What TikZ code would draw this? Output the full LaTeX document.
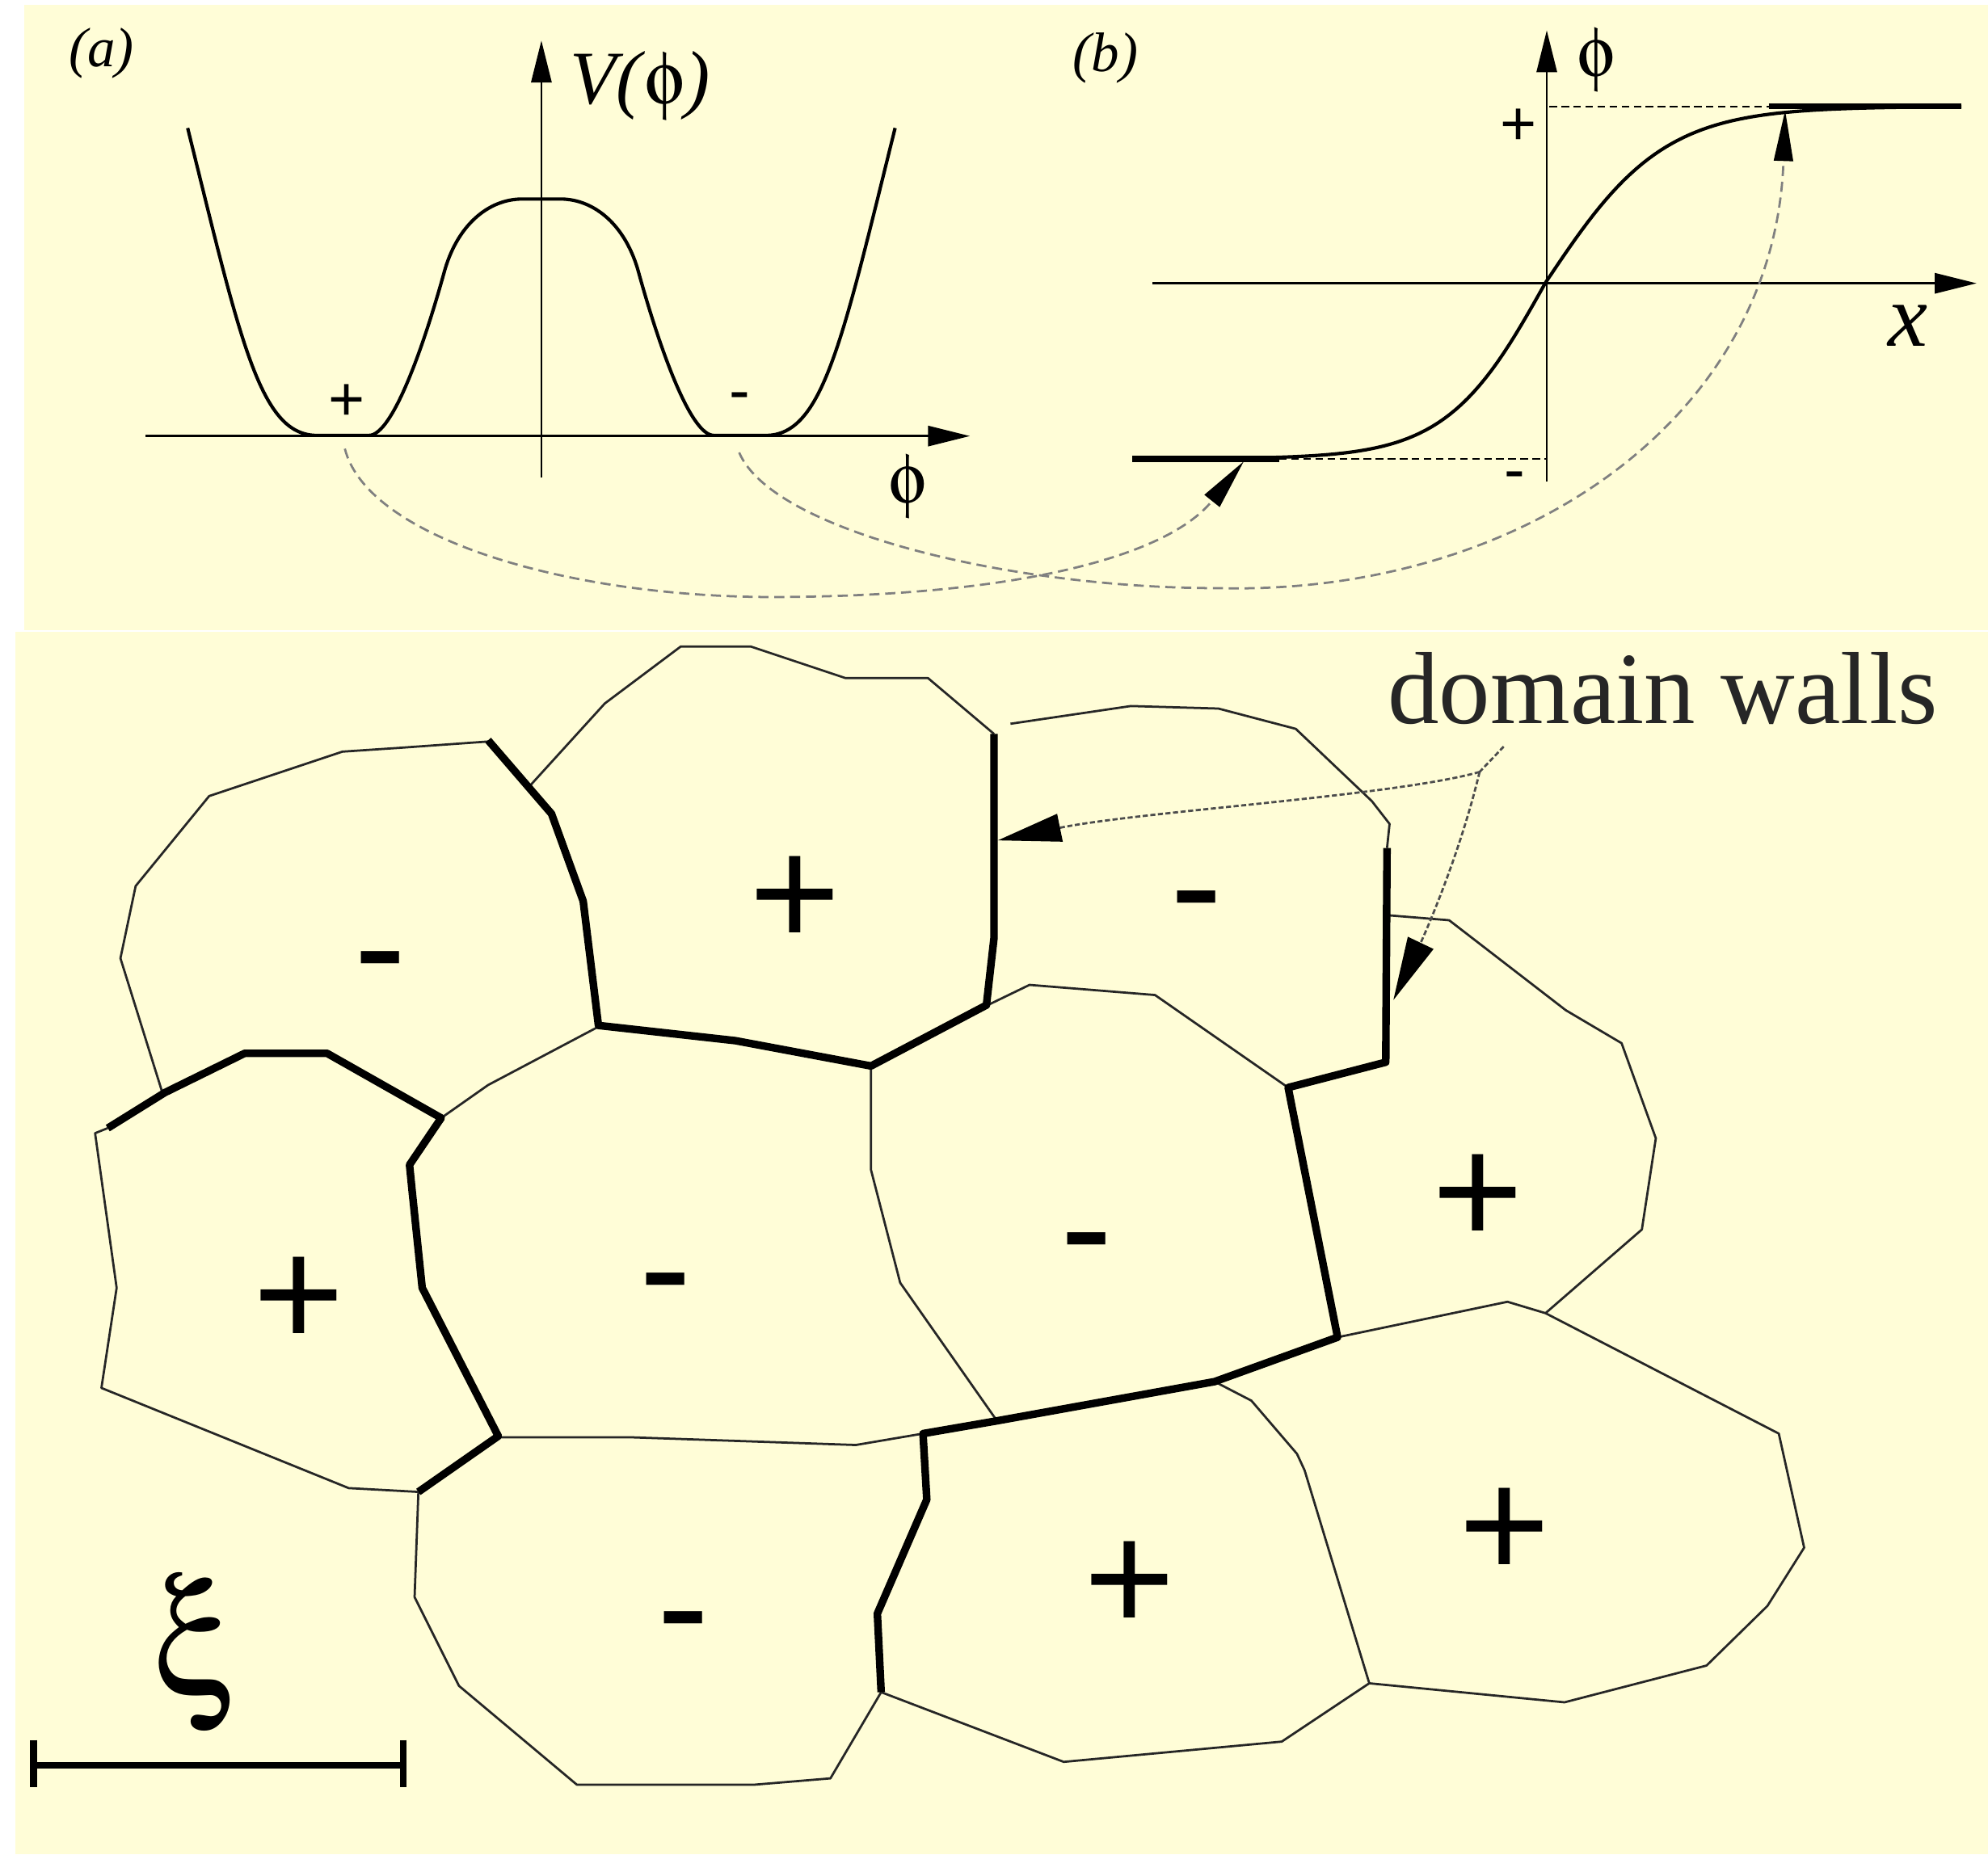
\documentclass[tikz,border=0pt]{standalone}
\usepackage{fontspec}
\setmainfont{Liberation Serif}
\newfontfamily\sansf{Liberation Sans}
\usepackage[Symbol]{upgreek}
\usetikzlibrary{arrows.meta}
\definecolor{cream}{RGB}{255,253,215}
\begin{document}
\begin{tikzpicture}[x=0.01cm,y=-0.01cm,
  thinedge/.style={line width=0.5pt, draw=black!85, line join=round},
  wall/.style={line width=1.7pt, line join=round},
  axis/.style={line width=0.45pt, -{Triangle[length=0.33cm,width=0.16cm]}},
  curve/.style={line width=0.75pt, line join=round},
  flat/.style={line width=1.3pt},
  guide/.style={line width=0.45pt, dash pattern=on 0.06cm off 0.035cm},
  conn/.style={black!50, line width=0.5pt, dash pattern=on 0.08cm off 0.045cm,
               -{Triangle[length=0.4cm,width=0.15cm,color=black]}},
  ptr/.style={black!70, line width=0.5pt, dash pattern=on 0.04cm off 0.02cm},
  ptrtip/.style={-{Triangle[length=0.5cm,width=0.22cm,color=black]}},
  bigsign/.style={font={\sansf\fontsize{35}{40}\selectfont}, anchor=base, inner sep=0pt},
  bigminus/.style={bigsign, yshift=-0.33cm},
  bigplus/.style={bigsign, yshift=-0.43cm},
  smallsign/.style={font={\sansf\fontsize{14}{16}\selectfont}, anchor=base, inner sep=0pt},
  smallminus/.style={smallsign, yshift=-0.13cm},
  smallplus/.style={smallsign, yshift=-0.17cm},
]
\useasboundingbox (0,0) rectangle (1568,1463);
\fill[white] (0,0) rectangle (1568,1463);
\fill[cream] (19,3.8) rectangle (1568,497.4);
\fill[cream] (12.3,498.4) rectangle (1568,1463);

% ---------- panel (a) ----------
\node[font={\itshape\fontsize{12.5}{15}\selectfont}] (la) at (80,42) {(a)};
\coordinate (aVb) at (427,377); \coordinate (aVt) at (427,32);
\coordinate (aHl) at (115,344); \coordinate (aHr) at (765,344);
\draw[axis] (aVb) -- (aVt);
\draw[axis] (aHl) -- (aHr);
\node[font={\fontsize{17}{20}\selectfont}] (lV) at (505,68) {\textit{V(}$\upphi$\textit{)}};
\node[font={\fontsize{16}{19}\selectfont}] (lphiA) at (716,384) {$\upphi$};
\draw[curve] (148,101) .. controls (190,270) and (205,343.5) .. (250,343.5)
   -- (291,343.5) .. controls (310,343.5) and (335,270) .. (350,216)
   .. controls (360,178) and (385,157) .. (412,157)
   -- (442,157) .. controls (469,157) and (494,178) .. (504,216)
   .. controls (519,270) and (544,343.5) .. (563,343.5)
   -- (604,343.5) .. controls (649,343.5) and (664,270) .. (706,101);
\node[smallplus] (pa) at (273.5,314.5) {+};
\node[smallminus] (ma) at (583.5,312) {-};

% ---------- panel (b) ----------
\node[font={\itshape\fontsize{12.5}{15}\selectfont}] (lb) at (872,46) {(b)};
\coordinate (bVb) at (1220,380); \coordinate (bVt) at (1220,24);
\coordinate (bHl) at (909,223.5); \coordinate (bHr) at (1559,223.5);
\draw[axis] (bVb) -- (bVt);
\draw[axis] (bHl) -- (bHr);
\node[font={\fontsize{16}{19}\selectfont}] (lphiB) at (1259,47) {$\upphi$};
\node[font={\itshape\fontsize{20}{24}\selectfont}] (lx) at (1505,257) {x};
\node[smallplus] (pb) at (1197.5,97.5) {+};
\node[smallminus] (mb) at (1195,374) {-};
\coordinate (gPa) at (1222,84); \coordinate (gPb) at (1400,84);
\coordinate (gMa) at (1009,362); \coordinate (gMb) at (1220,362);
\draw[guide] (gPa) -- (gPb);
\draw[guide] (gMa) -- (gMb);
\draw[curve] plot[domain=893:1219,samples=70] (\x,{223-139*tanh((\x-1219)/78)});
\draw[curve] plot[domain=1219:1547,samples=70] (\x,{223-139*tanh((\x-1219)/93)});
\coordinate (fLa) at (893,362); \coordinate (fLb) at (1009,362);
\coordinate (fRa) at (1395,84); \coordinate (fRb) at (1547,84);
\draw[flat] (fLa) -- (fLb);
\draw[flat] (fRa) -- (fRb);

% ---------- connectors (a) -> (b) ----------
\coordinate (minP) at (272,354); \coordinate (minM) at (583,357);
\coordinate (tipL) at (981,364); \coordinate (tipR) at (1408,87);
\draw[conn] (minP) .. controls (290,425) and (450,472) .. (615,471)
                   .. controls (800,470) and (920,440) .. (tipL);
\draw[conn] (minM) .. controls (610,420) and (800,464) .. (960,464)
                   .. controls (1200,470) and (1400,330) .. (tipR);

% ---------- domains: thin cell edges ----------
\draw[thinedge] (129,865) -- (95,756) -- (107,699) -- (165,628) -- (270,593) -- (315,590) -- (385,585);
\draw[thinedge] (417,621) -- (477,555) -- (537,510) -- (592,510) -- (667,535) -- (732,535) -- (784,579);
\draw[thinedge] (797,571) -- (892,557) -- (961,559) -- (1022,575) -- (1082,632) -- (1096,650) -- (1094,669);
\draw[thinedge] (1094,722) -- (1143,726) -- (1235,797) -- (1279,823) -- (1306,898) -- (1295,970) -- (1219,1036);
\draw[thinedge] (779,793) -- (812,777) -- (911,785) -- (1016,858);
\draw[thinedge] (348,882) -- (385,856) -- (472,810);
\draw[thinedge] (687,841) -- (687,923) -- (710,1012) -- (785,1119);
\draw[thinedge] (85,890) -- (75,894) -- (92,1016) -- (80,1095) -- (275,1174) -- (330,1177);
\draw[thinedge] (393,1134) -- (500,1134) -- (675,1140) -- (728,1131);
\draw[thinedge] (330,1177) -- (327,1260) -- (362,1330) -- (455,1408) -- (595,1408) -- (655,1403) -- (695,1335);
\draw[thinedge] (695,1335) -- (839,1390) -- (1011,1374) -- (1080,1328) -- (1029,1160) -- (1023,1147) -- (987,1105) -- (958,1090);
\draw[thinedge] (1055,1055) -- (1189,1027) -- (1219,1036) -- (1403,1131) -- (1423,1221) -- (1394,1267) -- (1346,1314) -- (1234,1343) -- (1080,1328);

% ---------- domain walls (thick) ----------
\draw[wall] (385,584) -- (435,642) -- (460,711) -- (472,809) -- (580,821) -- (687,841) -- (778,793) -- (784,740) -- (784,579);
\draw[wall] (85,890) -- (130,862) -- (193,831) -- (258,831) -- (348,882) -- (323,919) -- (325,939) -- (333,1016) -- (393,1133) -- (330,1177);
\draw[wall] (695,1335) -- (692,1273) -- (731,1183) -- (728,1131) -- (786,1121) -- (958,1090) -- (1055,1055) -- (1016,858) -- (1093,838) -- (1094,669);

% ---------- signs ----------
\node[bigminus] (sA) at (300,755) {-};
\node[bigplus]  (sB) at (627,704) {+};
\node[bigminus] (sI) at (944,707) {-};
\node[bigplus]  (sC) at (236,1020) {+};
\node[bigminus] (sD) at (525,1009) {-};
\node[bigminus] (sJ) at (857,977) {-};
\node[bigplus]  (sH) at (1166,939) {+};
\node[bigminus] (sE) at (539,1276) {-};
\node[bigplus]  (sF) at (891,1244) {+};
\node[bigplus]  (sG) at (1187,1202) {+};

% ---------- domain walls label ----------
\node[font={\fontsize{23}{27}\selectfont}, text=black!85, anchor=base west, inner sep=0pt] (dw) at (1094,571) {domain walls};
\coordinate (dwTail) at (1186,589); \coordinate (dwJ) at (1167,609);
\coordinate (dwTip1) at (787,663); \coordinate (dwTip2) at (1099,789);
\draw[ptr] (dwTail) -- (dwJ);
\draw[ptr,ptrtip] (dwJ) .. controls (1100,628) and (900,640) .. (dwTip1);
\draw[ptr,ptrtip] (dwJ) .. controls (1150,680) and (1120,745) .. (dwTip2);

% ---------- correlation length ----------
\node[font={\fontsize{36}{40}\selectfont}] (lxi) at (153,1304) {$\upxi$};
\coordinate (sbL) at (26.5,1392.7); \coordinate (sbR) at (318,1392.7);
\draw[line width=1.5pt] (sbL) -- (sbR);
\draw[line width=1.5pt] ([yshift=0.2cm]sbL) -- ([yshift=-0.17cm]sbL);
\draw[line width=1.5pt] ([yshift=0.2cm]sbR) -- ([yshift=-0.17cm]sbR);
\end{tikzpicture}
\end{document}
